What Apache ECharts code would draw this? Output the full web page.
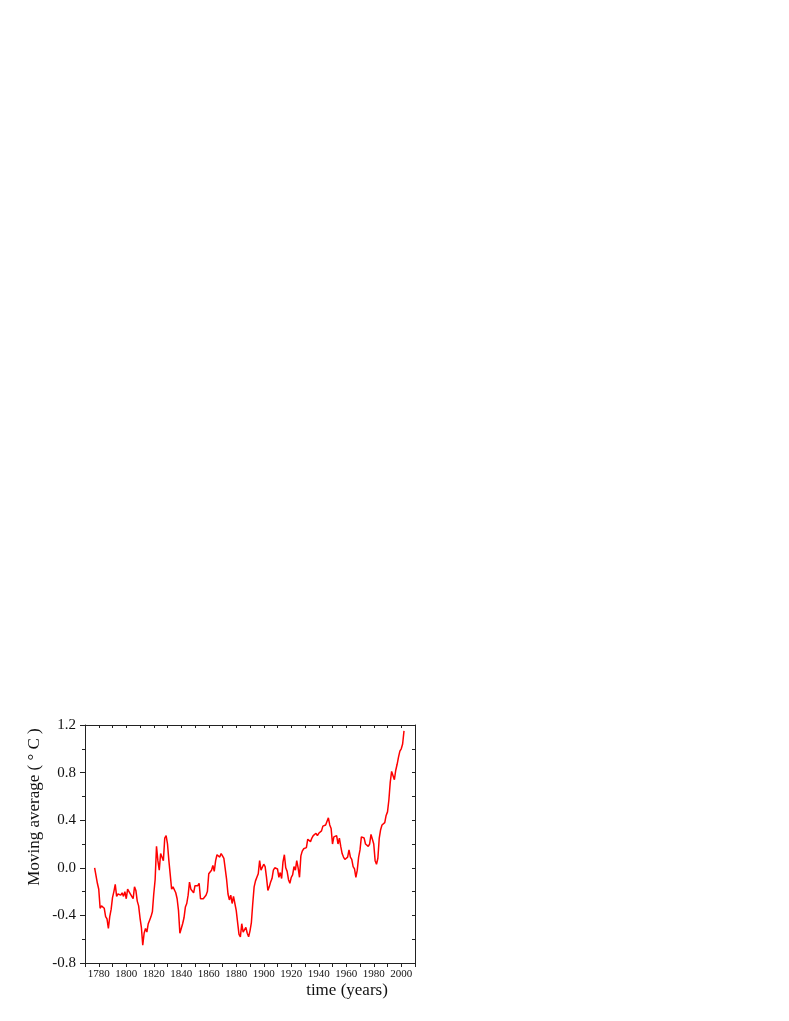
<!DOCTYPE html>
<html>
<head>
<meta charset="utf-8">
<script src="https://cdn.jsdelivr.net/npm/echarts@6/dist/echarts.min.js"></script>
<style>
  html, body { margin: 0; padding: 0; background: #fff; }
  #main { width: 789px; height: 1021px; }
</style>
</head>
<body>
<div id="main"></div>
<script>
// moving average, one value per year starting at firstYear
const firstYear = 1777;
const movingAvg = [
  0.00, 0.00, -0.13, -0.18, -0.34, -0.32, -0.32, -0.34, -0.41, -0.43,   // 1777-1786
  -0.51, -0.41, -0.35, -0.25, -0.20, -0.14, -0.24, -0.22, -0.21, -0.23,  // 1787-1796
  -0.21, -0.24, -0.20, -0.26, -0.18, -0.20, -0.21, -0.24, -0.26, -0.16,  // 1797-1806
  -0.19, -0.28, -0.32, -0.42, -0.50, -0.65, -0.55, -0.51, -0.54, -0.47,  // 1807-1816
  -0.44, -0.41, -0.37, -0.22, -0.10, 0.18, 0.06, -0.02, 0.12, 0.11,      // 1817-1826
  0.06, 0.25, 0.27, 0.20, 0.06, -0.06, -0.18, -0.16, -0.16, -0.21,       // 1827-1836
  -0.26, -0.36, -0.55, -0.51, -0.47, -0.42, -0.33, -0.30, -0.23, -0.12,  // 1837-1846
  -0.18, -0.17, -0.21, -0.15, -0.14, -0.15, -0.13, -0.26, -0.26, -0.26,  // 1847-1856
  -0.26, -0.23, -0.20, -0.05, -0.05, -0.02, 0.02, -0.03, 0.06, 0.11,     // 1857-1866
  0.10, 0.09, 0.12, 0.10, 0.08, 0.07, -0.10, -0.22, -0.27, -0.23,        // 1867-1876
  -0.30, -0.24, -0.30, -0.36, -0.46, -0.56, -0.58, -0.47, -0.54, -0.53,  // 1877-1886
  -0.50, -0.55, -0.58, -0.53, -0.46, -0.30, -0.16, -0.11, -0.08, -0.05,  // 1887-1896
  0.06, -0.02, -0.01, 0.03, 0.01, -0.08, -0.19, -0.16, -0.12, -0.09,     // 1897-1906
  -0.02, 0.00, 0.00, -0.01, -0.08, -0.04, -0.09, 0.05, 0.11, 0.00,       // 1907-1916
  -0.03, -0.10, -0.13, -0.08, -0.06, 0.01, -0.02, 0.06, 0.00, -0.08,     // 1917-1926
  0.10, 0.14, 0.16, 0.16, 0.17, 0.24, 0.25, 0.22, 0.25, 0.27,            // 1927-1936
  0.26, 0.29, 0.27, 0.29, 0.28, 0.31, 0.35, 0.35, 0.36, 0.37,            // 1937-1946
  0.42, 0.36, 0.33, 0.20, 0.26, 0.25, 0.27, 0.20, 0.25, 0.18,            // 1947-1956
  0.12, 0.09, 0.07, 0.08, 0.09, 0.15, 0.09, 0.07, 0.01, -0.01,           // 1957-1966
  -0.08, -0.02, 0.09, 0.15, 0.26, 0.26, 0.25, 0.20, 0.20, 0.18,          // 1967-1976
  0.20, 0.28, 0.28, 0.20, 0.06, 0.03, 0.08, 0.25, 0.32, 0.36,            // 1977-1986
  0.36, 0.38, 0.44, 0.47, 0.57, 0.72, 0.81, 0.80, 0.74, 0.82,            // 1987-1996
  0.87, 0.93, 0.98, 1.00, 1.04, 1.15                                     // 1997-2002
];

const xMin = 1770, xMax = 2010;
const yMin = -0.8, yMax = 1.2;

const seriesData = movingAvg.map((v, i) => [firstYear + i, v]);

const serif = 'Liberation Serif, Times New Roman, serif';
const axisColor = '#222';

const chart = echarts.init(document.getElementById('main'), null, { renderer: 'canvas' });

chart.setOption({
  backgroundColor: '#fff',
  animation: false,
  grid: { left: 85, top: 725, right: 374, bottom: 58, containLabel: false },
  xAxis: [
    {
      type: 'value', position: 'bottom', min: xMin, max: xMax, interval: 10,
      axisLine: { show: true, onZero: false, lineStyle: { color: axisColor, width: 1 } },
      axisTick: { show: true, length: 4, lineStyle: { color: axisColor } },
      axisLabel: {
        margin: 6, fontFamily: serif, fontSize: 11, color: '#111',
        formatter: v => (v % 20 === 0 && v !== xMin && v !== xMax) ? String(v) : ''
      },
      splitLine: { show: false }
    },
    {
      type: 'value', position: 'top', min: xMin, max: xMax, interval: 10,
      axisLine: { show: true, onZero: false, lineStyle: { color: axisColor, width: 1 } },
      axisTick: { show: true, inside: true, length: 3, lineStyle: { color: axisColor } },
      axisLabel: { show: false },
      splitLine: { show: false }
    }
  ],
  yAxis: [
    {
      type: 'value', position: 'left', min: yMin, max: yMax, interval: 0.4,
      axisLine: { show: true, onZero: false, lineStyle: { color: axisColor, width: 1 } },
      axisTick: { show: true, length: 5, lineStyle: { color: axisColor } },
      minorTick: { show: true, splitNumber: 2, length: 3, lineStyle: { color: axisColor } },
      axisLabel: {
        margin: 9, fontFamily: serif, fontSize: 15, color: '#111',
        formatter: v => v.toFixed(1)
      },
      splitLine: { show: false }
    },
    {
      type: 'value', position: 'right', min: yMin, max: yMax, interval: 0.2,
      axisLine: { show: true, onZero: false, lineStyle: { color: axisColor, width: 1 } },
      axisTick: { show: true, inside: true, length: 3, lineStyle: { color: axisColor } },
      axisLabel: { show: false },
      splitLine: { show: false }
    }
  ],
  series: [
    {
      type: 'line',
      data: seriesData,
      xAxisIndex: 0,
      yAxisIndex: 0,
      showSymbol: false,
      symbol: 'none',
      lineStyle: { color: '#ff0000', width: 1.5 },
      z: 3
    }
  ],
  graphic: [
    {
      type: 'text', x: 347, y: 991,
      style: {
        text: 'time (years)', font: '17px ' + serif, fill: '#111',
        textAlign: 'center', textVerticalAlign: 'middle'
      }
    },
    {
      type: 'text', x: 35, y: 807, rotation: Math.PI / 2,
      style: {
        text: 'Moving average ( \u00b0 C )', font: '17px ' + serif, fill: '#111',
        textAlign: 'center', textVerticalAlign: 'middle'
      }
    }
  ]
});
</script>
</body>
</html>
